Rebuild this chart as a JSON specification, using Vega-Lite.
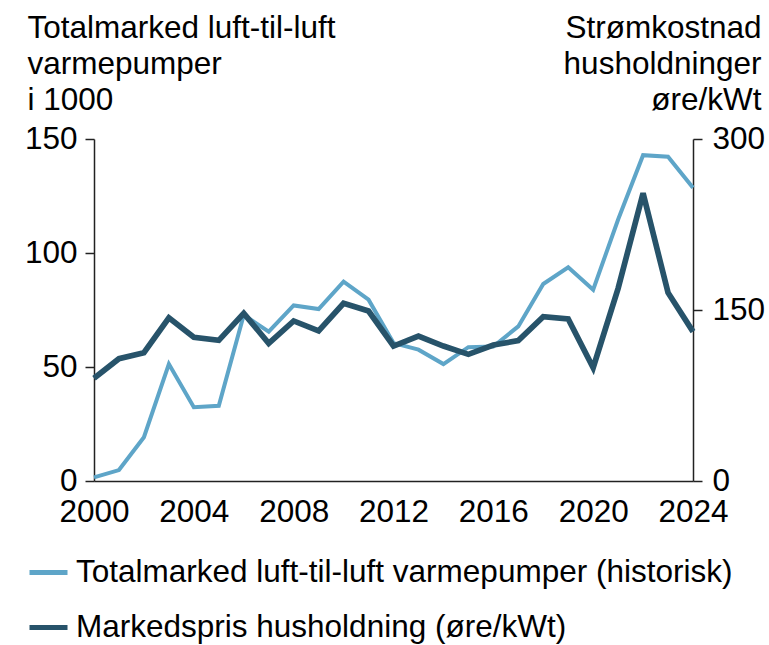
{
  "$schema": "https://vega.github.io/schema/vega-lite/v6.json",
  "autosize": {"type": "none"},
  "padding": {"left": 94, "top": 139, "right": 76, "bottom": 164},
  "width": 599,
  "height": 342,
  "background": "white",
  "config": {
    "view": {"stroke": null},
    "font": "Liberation Sans",
    "axis": {"grid": false, "labelFont": "Liberation Sans", "titleFont": "Liberation Sans", "labelColor": "#000", "titleColor": "#000", "domainColor": "#222", "tickColor": "#222", "domainWidth": 1.5, "tickWidth": 1.5},
    "legend": {"labelFont": "Liberation Sans"}
  },
  "data": {
    "values": [
      {"year": 2000, "serie": "Totalmarked luft-til-luft varmepumper (historisk)", "value": 1.6},
      {"year": 2001, "serie": "Totalmarked luft-til-luft varmepumper (historisk)", "value": 4.8},
      {"year": 2002, "serie": "Totalmarked luft-til-luft varmepumper (historisk)", "value": 19.2},
      {"year": 2003, "serie": "Totalmarked luft-til-luft varmepumper (historisk)", "value": 51.3},
      {"year": 2004, "serie": "Totalmarked luft-til-luft varmepumper (historisk)", "value": 32.4},
      {"year": 2005, "serie": "Totalmarked luft-til-luft varmepumper (historisk)", "value": 33.0},
      {"year": 2006, "serie": "Totalmarked luft-til-luft varmepumper (historisk)", "value": 72.8},
      {"year": 2007, "serie": "Totalmarked luft-til-luft varmepumper (historisk)", "value": 65.5},
      {"year": 2008, "serie": "Totalmarked luft-til-luft varmepumper (historisk)", "value": 77.0},
      {"year": 2009, "serie": "Totalmarked luft-til-luft varmepumper (historisk)", "value": 75.4},
      {"year": 2010, "serie": "Totalmarked luft-til-luft varmepumper (historisk)", "value": 87.4},
      {"year": 2011, "serie": "Totalmarked luft-til-luft varmepumper (historisk)", "value": 79.5},
      {"year": 2012, "serie": "Totalmarked luft-til-luft varmepumper (historisk)", "value": 60.5},
      {"year": 2013, "serie": "Totalmarked luft-til-luft varmepumper (historisk)", "value": 57.6},
      {"year": 2014, "serie": "Totalmarked luft-til-luft varmepumper (historisk)", "value": 51.3},
      {"year": 2015, "serie": "Totalmarked luft-til-luft varmepumper (historisk)", "value": 58.7},
      {"year": 2016, "serie": "Totalmarked luft-til-luft varmepumper (historisk)", "value": 59.0},
      {"year": 2017, "serie": "Totalmarked luft-til-luft varmepumper (historisk)", "value": 67.8},
      {"year": 2018, "serie": "Totalmarked luft-til-luft varmepumper (historisk)", "value": 86.4},
      {"year": 2019, "serie": "Totalmarked luft-til-luft varmepumper (historisk)", "value": 93.7},
      {"year": 2020, "serie": "Totalmarked luft-til-luft varmepumper (historisk)", "value": 83.9},
      {"year": 2021, "serie": "Totalmarked luft-til-luft varmepumper (historisk)", "value": 114.7},
      {"year": 2022, "serie": "Totalmarked luft-til-luft varmepumper (historisk)", "value": 142.9},
      {"year": 2023, "serie": "Totalmarked luft-til-luft varmepumper (historisk)", "value": 142.2},
      {"year": 2024, "serie": "Totalmarked luft-til-luft varmepumper (historisk)", "value": 128.6},
      {"year": 2000, "serie": "Markedspris husholdning (øre/kWt)", "value": 90.1},
      {"year": 2001, "serie": "Markedspris husholdning (øre/kWt)", "value": 107.3},
      {"year": 2002, "serie": "Markedspris husholdning (øre/kWt)", "value": 112.5},
      {"year": 2003, "serie": "Markedspris husholdning (øre/kWt)", "value": 143.2},
      {"year": 2004, "serie": "Markedspris husholdning (øre/kWt)", "value": 126.0},
      {"year": 2005, "serie": "Markedspris husholdning (øre/kWt)", "value": 123.4},
      {"year": 2006, "serie": "Markedspris husholdning (øre/kWt)", "value": 147.1},
      {"year": 2007, "serie": "Markedspris husholdning (øre/kWt)", "value": 120.8},
      {"year": 2008, "serie": "Markedspris husholdning (øre/kWt)", "value": 140.4},
      {"year": 2009, "serie": "Markedspris husholdning (øre/kWt)", "value": 131.6},
      {"year": 2010, "serie": "Markedspris husholdning (øre/kWt)", "value": 155.9},
      {"year": 2011, "serie": "Markedspris husholdning (øre/kWt)", "value": 149.1},
      {"year": 2012, "serie": "Markedspris husholdning (øre/kWt)", "value": 118.4},
      {"year": 2013, "serie": "Markedspris husholdning (øre/kWt)", "value": 127.2},
      {"year": 2014, "serie": "Markedspris husholdning (øre/kWt)", "value": 118.4},
      {"year": 2015, "serie": "Markedspris husholdning (øre/kWt)", "value": 111.1},
      {"year": 2016, "serie": "Markedspris husholdning (øre/kWt)", "value": 119.3},
      {"year": 2017, "serie": "Markedspris husholdning (øre/kWt)", "value": 123.1},
      {"year": 2018, "serie": "Markedspris husholdning (øre/kWt)", "value": 144.1},
      {"year": 2019, "serie": "Markedspris husholdning (øre/kWt)", "value": 142.1},
      {"year": 2020, "serie": "Markedspris husholdning (øre/kWt)", "value": 99.4},
      {"year": 2021, "serie": "Markedspris husholdning (øre/kWt)", "value": 169.0},
      {"year": 2022, "serie": "Markedspris husholdning (øre/kWt)", "value": 252.4},
      {"year": 2023, "serie": "Markedspris husholdning (øre/kWt)", "value": 165.2},
      {"year": 2024, "serie": "Markedspris husholdning (øre/kWt)", "value": 131.0}
    ]
  },
  "encoding": {
    "x": {
      "field": "year",
      "type": "quantitative",
      "scale": {"domain": [2000, 2024], "nice": false, "zero": false},
      "axis": {"title": null, "values": [2000, 2004, 2008, 2012, 2016, 2020, 2024], "format": "d", "ticks": false, "tickSize": 0, "labelFontSize": 31.5, "labelPadding": 15, "labelFlush": false, "labelOverlap": false}
    },
    "color": {
      "field": "serie",
      "type": "nominal",
      "scale": {
        "domain": ["Totalmarked luft-til-luft varmepumper (historisk)", "Markedspris husholdning (øre/kWt)"],
        "range": ["#5ea5c8", "#27536a"]
      },
      "legend": {
        "title": null,
        "orient": "none",
        "legendX": -67,
        "legendY": 412,
        "direction": "vertical",
        "symbolType": "stroke",
        "symbolSize": 1444,
        "symbolStrokeWidth": 5,
        "labelFontSize": 31.5,
        "labelColor": "#000",
        "labelOffset": 6,
        "labelLimit": 800,
        "rowPadding": 18
      }
    }
  },
  "layer": [
    {
      "transform": [{"filter": "datum.serie === 'Totalmarked luft-til-luft varmepumper (historisk)'"}],
      "mark": {"type": "line", "strokeWidth": 4, "strokeJoin": "miter"},
      "encoding": {
        "y": {
          "field": "value",
          "type": "quantitative",
          "scale": {"domain": [0, 150], "nice": false},
          "axis": {
            "orient": "left",
            "values": [0, 50, 100, 150],
            "labelFontSize": 31.5,
            "labelPadding": 8,
            "tickSize": 9,
            "title": ["Totalmarked luft-til-luft", "varmepumper", "i 1000"],
            "titleAngle": 0,
            "titleFontSize": 31.5,
            "titleFontWeight": "normal",
            "titleAlign": "left",
            "titleBaseline": "alphabetic",
            "titleX": -67,
            "titleY": -102,
            "titleLineHeight": 36
          }
        }
      }
    },
    {
      "transform": [{"filter": "datum.serie === 'Markedspris husholdning (øre/kWt)'"}],
      "mark": {"type": "line", "strokeWidth": 5.7, "strokeJoin": "miter"},
      "encoding": {
        "y": {
          "field": "value",
          "type": "quantitative",
          "scale": {"domain": [0, 300], "nice": false},
          "axis": {
            "orient": "right",
            "values": [0, 150, 300],
            "labelFontSize": 31.5,
            "labelPadding": 10,
            "tickSize": 9,
            "title": ["Strømkostnad", "husholdninger", "øre/kWt"],
            "titleAngle": 0,
            "titleFontSize": 31.5,
            "titleFontWeight": "normal",
            "titleAlign": "right",
            "titleBaseline": "alphabetic",
            "titleX": 68,
            "titleY": -102,
            "titleLineHeight": 36
          }
        }
      }
    }
  ],
  "resolve": {"scale": {"y": "independent"}}
}
